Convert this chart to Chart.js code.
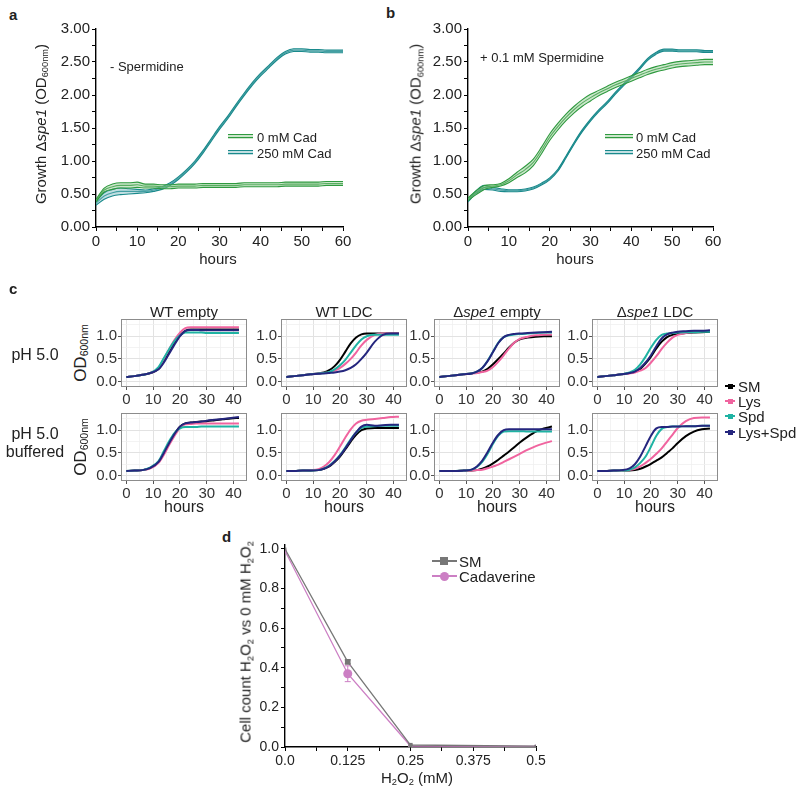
<!DOCTYPE html>
<html><head><meta charset="utf-8">
<script src="https://cdn.jsdelivr.net/npm/chart.js@4"></script>
<style>
body{margin:0;background:#fff;width:800px;height:794px;position:relative;overflow:hidden;font-family:"Liberation Sans",Arial,sans-serif;color:#222}
canvas{position:absolute}
.t{position:absolute;white-space:nowrap;line-height:1}
.ctr{transform:translate(-50%,-50%)}
.lft{transform:translateY(-50%)}
.rot{transform:translate(-50%,-50%) rotate(-90deg)}
.pl{font-weight:bold;font-size:15px}
sub{font-size:0.62em;vertical-align:-0.28em;line-height:0}
.ln{position:absolute}
</style>
</head><body>
<script>
// ---------------- DATA ----------------
// Panels a & b : growth of Δspe1 (OD600nm), hours 0..60
const hoursAB = [0,2,4,6,8,10,12,14,16,18,20,22,24,26,28,30,32,34,36,38,40,42,44,46,48,50,52,54,56,58,60];
const aCad0    = [0.40,0.56,0.61,0.63,0.63,0.64,0.62,0.62,0.61,0.61,0.62,0.62,0.62,0.63,0.63,0.63,0.63,0.63,0.64,0.64,0.64,0.64,0.64,0.65,0.65,0.65,0.65,0.65,0.66,0.66,0.66];
const aCad0Err = [0.02,0.03,0.04,0.04,0.04,0.04,0.03,0.03,0.03,0.03,0.03,0.03,0.03,0.03,0.03,0.03,0.03,0.03,0.03,0.03,0.03,0.03,0.03,0.03,0.03,0.03,0.03,0.03,0.03,0.03,0.03];
const aCad250    = [0.36,0.47,0.52,0.54,0.54,0.54,0.54,0.56,0.59,0.65,0.74,0.85,0.98,1.14,1.32,1.50,1.66,1.84,2.01,2.17,2.31,2.43,2.55,2.64,2.68,2.68,2.67,2.67,2.66,2.66,2.66];
const aCad250Err = [0.03,0.05,0.05,0.05,0.04,0.03,0.02,0.02,0.02,0.02,0.02,0.02,0.02,0.02,0.02,0.02,0.02,0.02,0.02,0.02,0.02,0.02,0.02,0.02,0.02,0.02,0.02,0.02,0.02,0.02,0.02];
const bCad0    = [0.42,0.52,0.60,0.62,0.64,0.70,0.79,0.87,0.98,1.16,1.36,1.52,1.66,1.78,1.88,1.96,2.03,2.09,2.15,2.20,2.25,2.30,2.35,2.39,2.42,2.45,2.47,2.48,2.49,2.50,2.50];
const bCad0Err = [0.02,0.03,0.03,0.02,0.02,0.03,0.04,0.05,0.05,0.05,0.05,0.05,0.05,0.05,0.05,0.05,0.04,0.04,0.04,0.04,0.04,0.04,0.04,0.04,0.04,0.04,0.04,0.04,0.04,0.04,0.04];
const bCad250    = [0.40,0.53,0.60,0.58,0.56,0.55,0.55,0.56,0.59,0.65,0.73,0.86,1.06,1.27,1.46,1.62,1.76,1.88,2.02,2.15,2.27,2.40,2.54,2.63,2.68,2.68,2.67,2.67,2.67,2.66,2.66];
const bCad250Err = [0.02,0.02,0.03,0.02,0.02,0.015,0.015,0.015,0.015,0.015,0.015,0.015,0.015,0.015,0.015,0.015,0.015,0.015,0.015,0.015,0.015,0.015,0.015,0.015,0.015,0.015,0.015,0.015,0.015,0.015,0.015];
const abLegend = ['0 mM Cad','250 mM Cad'];
const abYTicks = [0,0.25,0.5,0.75,1,1.25,1.5,1.75,2,2.25,2.5,2.75,3];
const abXTicks = [0,5,10,15,20,25,30,35,40,45,50,55,60];

// Panel c : OD600nm vs hours, series SM, Lys, Spd, Lys+Spd
const hoursC = [0,3,6,9,12,14,16,18,20,22,24,26,28,30,33,36,39,42];
const cSeries = ['SM','Lys','Spd','Lys+Spd'];
const cColumns = ['WT empty','WT LDC','Δspe1 empty','Δspe1 LDC'];
const c_WTempty_pH5 = [
 [0.10,0.12,0.15,0.19,0.28,0.45,0.65,0.85,1.02,1.12,1.15,1.15,1.15,1.15,1.15,1.15,1.15,1.15],
 [0.10,0.12,0.15,0.19,0.30,0.50,0.72,0.92,1.08,1.18,1.20,1.20,1.20,1.20,1.20,1.20,1.20,1.20],
 [0.10,0.12,0.15,0.19,0.32,0.52,0.72,0.90,1.02,1.08,1.08,1.08,1.08,1.07,1.07,1.07,1.07,1.07],
 [0.10,0.12,0.15,0.19,0.27,0.42,0.62,0.82,1.00,1.12,1.14,1.14,1.13,1.13,1.13,1.13,1.13,1.13]];
const c_WTLDC_pH5 = [
 [0.10,0.12,0.14,0.16,0.18,0.20,0.25,0.34,0.48,0.66,0.84,0.97,1.04,1.06,1.06,1.06,1.06,1.06],
 [0.10,0.12,0.14,0.16,0.18,0.19,0.20,0.24,0.30,0.39,0.50,0.64,0.80,0.92,1.03,1.06,1.06,1.06],
 [0.10,0.12,0.14,0.16,0.18,0.19,0.21,0.27,0.36,0.48,0.64,0.80,0.93,1.00,1.03,1.03,1.03,1.03],
 [0.10,0.12,0.14,0.16,0.17,0.18,0.19,0.20,0.22,0.25,0.30,0.38,0.50,0.64,0.88,1.03,1.06,1.06]];
const c_spe1empty_pH5 = [
 [0.10,0.12,0.14,0.16,0.18,0.20,0.22,0.28,0.38,0.50,0.62,0.75,0.86,0.93,0.97,0.99,1.00,1.00],
 [0.10,0.12,0.14,0.16,0.17,0.19,0.21,0.24,0.32,0.44,0.58,0.73,0.86,0.94,0.99,1.02,1.03,1.04],
 [0.10,0.12,0.14,0.16,0.18,0.22,0.30,0.46,0.66,0.86,0.98,1.02,1.04,1.05,1.06,1.07,1.08,1.08],
 [0.10,0.12,0.14,0.16,0.18,0.22,0.30,0.45,0.65,0.85,0.98,1.03,1.05,1.06,1.07,1.08,1.09,1.10]];
const c_spe1LDC_pH5 = [
 [0.10,0.12,0.14,0.16,0.19,0.22,0.28,0.40,0.55,0.73,0.88,0.98,1.03,1.05,1.07,1.08,1.09,1.10],
 [0.10,0.12,0.14,0.16,0.18,0.20,0.24,0.30,0.42,0.56,0.72,0.86,0.97,1.03,1.07,1.09,1.11,1.12],
 [0.10,0.12,0.14,0.16,0.20,0.26,0.38,0.55,0.75,0.92,1.03,1.06,1.07,1.08,1.09,1.09,1.10,1.10],
 [0.10,0.12,0.14,0.16,0.19,0.22,0.30,0.42,0.58,0.78,0.95,1.04,1.08,1.10,1.11,1.12,1.12,1.13]];
const c_WTempty_buf = [
 [0.10,0.11,0.12,0.17,0.30,0.50,0.72,0.92,1.08,1.15,1.17,1.18,1.19,1.20,1.22,1.24,1.26,1.27],
 [0.10,0.11,0.12,0.16,0.28,0.46,0.68,0.88,1.05,1.13,1.14,1.15,1.15,1.15,1.15,1.15,1.15,1.15],
 [0.10,0.11,0.12,0.18,0.32,0.54,0.76,0.94,1.04,1.07,1.07,1.07,1.08,1.08,1.08,1.08,1.08,1.08],
 [0.10,0.11,0.12,0.17,0.30,0.50,0.72,0.92,1.08,1.15,1.17,1.18,1.19,1.21,1.23,1.25,1.27,1.29]];
const c_WTLDC_buf = [
 [0.10,0.10,0.11,0.11,0.12,0.15,0.20,0.30,0.42,0.58,0.75,0.90,1.00,1.04,1.05,1.05,1.05,1.05],
 [0.10,0.10,0.11,0.12,0.14,0.20,0.30,0.45,0.64,0.84,1.02,1.15,1.21,1.23,1.25,1.27,1.29,1.30],
 [0.10,0.10,0.11,0.11,0.12,0.16,0.22,0.32,0.45,0.62,0.80,0.95,1.05,1.08,1.09,1.10,1.10,1.10],
 [0.10,0.10,0.11,0.11,0.12,0.15,0.21,0.31,0.44,0.60,0.78,0.95,1.08,1.12,1.10,1.11,1.12,1.12]];
const c_spe1empty_buf = [
 [0.10,0.10,0.10,0.11,0.11,0.12,0.15,0.20,0.27,0.35,0.44,0.53,0.63,0.73,0.86,0.97,1.04,1.08],
 [0.10,0.10,0.10,0.11,0.11,0.12,0.13,0.16,0.20,0.24,0.30,0.36,0.42,0.48,0.57,0.65,0.71,0.76],
 [0.10,0.10,0.10,0.11,0.13,0.19,0.30,0.48,0.70,0.88,0.97,0.98,0.98,0.98,0.97,0.97,0.97,0.97],
 [0.10,0.10,0.10,0.11,0.13,0.20,0.33,0.52,0.73,0.90,1.00,1.02,1.02,1.02,1.02,1.02,1.02,1.02]];
const c_spe1LDC_buf = [
 [0.10,0.10,0.11,0.11,0.11,0.12,0.15,0.20,0.26,0.33,0.40,0.50,0.60,0.72,0.87,0.97,1.02,1.04],
 [0.10,0.10,0.11,0.11,0.12,0.15,0.20,0.28,0.37,0.48,0.60,0.75,0.90,1.05,1.20,1.27,1.28,1.28],
 [0.10,0.10,0.11,0.11,0.13,0.18,0.28,0.42,0.64,0.88,1.03,1.07,1.08,1.08,1.09,1.09,1.10,1.10],
 [0.10,0.10,0.11,0.12,0.16,0.25,0.42,0.65,0.88,1.04,1.07,1.07,1.08,1.08,1.09,1.09,1.10,1.10]];
const cXTicks = [0,5,10,15,20,25,30,35,40];
const cYTicks = [0,0.25,0.5,0.75,1,1.25];

// Panel d : cell count ratio vs H2O2 dose
const dDose = [0,0.125,0.25,0.5];
const dSM = [1.00,0.43,0.010,0.004];
const dSMErr = [0,0.01,0,0];
const dCad = [0.99,0.37,0.005,0.003];
const dCadErr = [0,0.04,0,0];
const dLegend = ['SM','Cadaverine'];
const dXTicks = [0,0.0625,0.125,0.1875,0.25,0.3125,0.375,0.4375,0.5];
const dXLabels = {'0':'0.0','0.125':'0.125','0.25':'0.25','0.375':'0.375','0.5':'0.5'};
const dYTicks = [0,0.1,0.2,0.3,0.4,0.5,0.6,0.7,0.8,0.9,1.0];

// ---------------- STYLE ----------------
const FONT = "'Liberation Sans', Arial, sans-serif";
Chart.defaults.font.family = FONT;
Chart.defaults.animation = false;
const GREEN = '#2f9a3f', GREEN_F = 'rgba(140,200,140,0.45)';
const TEAL = '#1a8a8c', TEAL_F = 'rgba(120,185,190,0.45)';
const C_COLORS = ['#000000','#f0649f','#1fb3a3','#25267e'];

function txt(html, x, y, cls, size, extra){
  const d=document.createElement('div');
  d.className='t '+cls; d.innerHTML=html;
  d.style.left=x+'px'; d.style.top=y+'px'; d.style.fontSize=size+'px';
  if(extra) Object.assign(d.style, extra);
  document.body.appendChild(d); return d;
}
function line(x1,x2,y,color,w){
  const d=document.createElement('div'); d.className='ln';
  d.style.left=x1+'px'; d.style.top=(y-w/2)+'px'; d.style.width=(x2-x1)+'px'; d.style.height=w+'px'; d.style.background=color;
  document.body.appendChild(d); return d;
}
function mkCanvas(area, yW, xH, pad){
  const left = area.l - yW - pad.l, top = area.t - pad.t;
  const w = area.r + pad.r - left, h = area.b + xH - top;
  const c = document.createElement('canvas');
  c.width=w; c.height=h; c.style.left=left+'px'; c.style.top=top+'px'; c.style.width=w+'px'; c.style.height=h+'px';
  document.body.appendChild(c); return c;
}
const near = (a,b)=>Math.abs(a-b)<1e-6;

// ---------------- PANELS a & b ----------------
function bandSets(xs, mean, err, color, fill){
  const up = mean.map((v,i)=>({x:xs[i], y:v+err[i]}));
  const lo = mean.map((v,i)=>({x:xs[i], y:v-err[i]}));
  const mid = mean.map((v,i)=>({x:xs[i], y:v}));
  const base = {borderColor:color, borderWidth:1.1, pointRadius:0, cubicInterpolationMode:'monotone'};
  return [
    Object.assign({data:up, fill:false}, base),
    Object.assign({data:lo, fill:'-1', backgroundColor:fill}, base),
    Object.assign({data:mid, fill:false}, base)
  ];
}
function growthChart(area, sets){
  const yW=70, xH=26, pad={l:0,t:12,r:12};
  const cv = mkCanvas(area,yW,xH,pad);
  new Chart(cv,{type:'line',
    data:{datasets:sets},
    options:{responsive:false, animation:false, layout:{padding:{left:pad.l,top:pad.t,right:pad.r,bottom:0}},
      plugins:{legend:{display:false}, tooltip:{enabled:false}},
      scales:{
        x:{type:'linear',min:0,max:60,
          afterBuildTicks:s=>{s.ticks=abXTicks.map(v=>({value:v}));},
          afterFit:s=>{s.height=xH;},
          ticks:{autoSkip:false,maxRotation:0,padding:2,color:'#222',font:{size:15},callback:v=>v%10===0?String(v):''},
          grid:{drawOnChartArea:false,tickLength:4,color:'#000',lineWidth:1},
          border:{display:true,color:'#000',width:1.4}},
        y:{type:'linear',min:0,max:3,
          afterBuildTicks:s=>{s.ticks=abYTicks.map(v=>({value:v}));},
          afterFit:s=>{s.width=yW;},
          ticks:{autoSkip:false,padding:2,color:'#222',font:{size:15},callback:v=>near(v*2,Math.round(v*2))?v.toFixed(2):''},
          grid:{drawOnChartArea:false,tickLength:4,color:'#000',lineWidth:1},
          border:{display:true,color:'#000',width:1.4}}
      }}});
}
growthChart({l:96,r:343,t:29,b:227},
  [...bandSets(hoursAB,aCad0,aCad0Err,GREEN,GREEN_F), ...bandSets(hoursAB,aCad250,aCad250Err,TEAL,TEAL_F)]);
growthChart({l:468,r:713,t:29,b:227},
  [...bandSets(hoursAB,bCad0,bCad0Err,GREEN,GREEN_F), ...bandSets(hoursAB,bCad250,bCad250Err,TEAL,TEAL_F)]);

const ytitleAB = 'Growth Δ<i>spe1</i> (OD<sub>600nm</sub>)';
txt('a',9,7,'pl',15);
txt('b',386,5,'pl',15);
txt(ytitleAB,40,124,'rot',15);
txt(ytitleAB,415,124,'rot',15);
txt('hours',218,258,'ctr',15);
txt('hours',575,258,'ctr',15);
txt('- Spermidine',110,66,'lft',13);
txt('+ 0.1 mM Spermidine',480,57,'lft',13);
[[228,253,257],[605,633,636]].forEach(([x1,x2,tx])=>{
  line(x1,x2,136,GREEN_F,5); line(x1,x2,134.5,GREEN,1); line(x1,x2,137.5,GREEN,1);
  line(x1,x2,152,TEAL_F,5); line(x1,x2,150.5,TEAL,1); line(x1,x2,153.5,TEAL,1);
  txt(abLegend[0],tx,137,'lft',13); txt(abLegend[1],tx,153,'lft',13);
});

// ---------------- PANEL c ----------------
const boxPlugin = {id:'box', afterDatasetsDraw(chart){
  const a=chart.chartArea, ctx=chart.ctx; ctx.save(); ctx.strokeStyle='#8c8c8c'; ctx.lineWidth=1;
  ctx.strokeRect(Math.round(a.left)+0.5,Math.round(a.top)+0.5,Math.round(a.right-a.left)-1,Math.round(a.bottom-a.top)-1); ctx.restore();}};
function facet(area, series){
  const yW=28, xH=20, pad={l:0,t:12,r:12};
  const cv = mkCanvas(area,yW,xH,pad);
  const sets = series.map((vals,k)=>({label:cSeries[k], data:vals.map((v,i)=>({x:hoursC[i],y:v})),
    borderColor:C_COLORS[k], borderWidth:2, pointRadius:0, fill:false, cubicInterpolationMode:'monotone', order:4-k}));
  new Chart(cv,{type:'line', data:{datasets:sets}, plugins:[boxPlugin],
    options:{responsive:false, animation:false, layout:{padding:{left:pad.l,top:pad.t,right:pad.r,bottom:0}},
      plugins:{legend:{display:false}, tooltip:{enabled:false}},
      scales:{
        x:{type:'linear',min:-2,max:45,
          afterBuildTicks:s=>{s.ticks=cXTicks.map(v=>({value:v}));},
          afterFit:s=>{s.height=xH;},
          ticks:{autoSkip:false,maxRotation:0,padding:1,color:'#333',font:{size:15},callback:v=>v%10===0?String(v):''},
          grid:{tickLength:3,lineWidth:ctx=>ctx.tick&&ctx.tick.value%10===0?1:0.8,
            color:ctx=>ctx.tick&&ctx.tick.value%10===0?'#e2e2e2':'#f0f0f0',
            tickColor:ctx=>ctx.tick&&ctx.tick.value%10===0?'#555':'rgba(0,0,0,0)'},
          border:{display:false}},
        y:{type:'linear',min:-0.12,max:1.38,
          afterBuildTicks:s=>{s.ticks=cYTicks.map(v=>({value:v}));},
          afterFit:s=>{s.width=yW;},
          ticks:{autoSkip:false,padding:1,color:'#333',font:{size:15},callback:v=>near(v*2,Math.round(v*2))?v.toFixed(1):''},
          grid:{tickLength:3,lineWidth:ctx=>ctx.tick&&near(ctx.tick.value*2,Math.round(ctx.tick.value*2))?1:0.8,
            color:ctx=>ctx.tick&&near(ctx.tick.value*2,Math.round(ctx.tick.value*2))?'#e2e2e2':'#f0f0f0',
            tickColor:ctx=>ctx.tick&&near(ctx.tick.value*2,Math.round(ctx.tick.value*2))?'#555':'rgba(0,0,0,0)'},
          border:{display:false}}
      }}});
}
const colL=[121,281,434,592], colW=126, rowT=[319,413], rowH=68;
const facetData=[[c_WTempty_pH5,c_WTLDC_pH5,c_spe1empty_pH5,c_spe1LDC_pH5],[c_WTempty_buf,c_WTLDC_buf,c_spe1empty_buf,c_spe1LDC_buf]];
for(let r=0;r<2;r++) for(let c=0;c<4;c++)
  facet({l:colL[c],r:colL[c]+colW,t:rowT[r],b:rowT[r]+rowH}, facetData[r][c]);
txt('c',9,281,'pl',15);
cColumns.forEach((name,c)=>{
  txt(name.replace('spe1','<i>spe1</i>'),colL[c]+colW/2,311,'ctr',15);
  txt('hours',colL[c]+colW/2,507,'ctr',16);
});
txt('pH 5.0',35,355,'ctr',16);
txt('pH 5.0',35,434,'ctr',16);
txt('buffered',35,452,'ctr',16);
txt('OD<sub>600nm</sub>',80,353,'rot',17);
txt('OD<sub>600nm</sub>',80,447,'rot',17);
const cLegY=[386,401,416,432];
cSeries.forEach((s,k)=>{
  line(725,735,cLegY[k],C_COLORS[k],2);
  const sq=document.createElement('div'); sq.className='ln';
  Object.assign(sq.style,{left:'727.5px',top:(cLegY[k]-2.5)+'px',width:'5px',height:'5px',background:C_COLORS[k]});
  document.body.appendChild(sq);
  txt(s,738,cLegY[k],'lft',15);
});

// ---------------- PANEL d ----------------
const errPlugin = {id:'err', afterDatasetsDraw(chart){
  const ctx=chart.ctx, xs=chart.scales.x, ys=chart.scales.y;
  chart.data.datasets.forEach(ds=>{ if(!ds.errors) return;
    ctx.save(); ctx.strokeStyle=ds.borderColor; ctx.lineWidth=1;
    ds.data.forEach((p,i)=>{ const e=ds.errors[i]; if(!e) return;
      const x=xs.getPixelForValue(p.x), y1=ys.getPixelForValue(p.y-e), y2=ys.getPixelForValue(p.y+e);
      ctx.beginPath(); ctx.moveTo(x,y1); ctx.lineTo(x,y2);
      ctx.moveTo(x-3,y1); ctx.lineTo(x+3,y1); ctx.moveTo(x-3,y2); ctx.lineTo(x+3,y2); ctx.stroke();});
    ctx.restore();});
}};
(function(){
  const area={l:285,r:536,t:545,b:747}, yW=40, xH=22, pad={l:0,t:12,r:20};
  const cv=mkCanvas(area,yW,xH,pad);
  const SMC='#777777', CADC='#cc7fc4';
  new Chart(cv,{type:'line', plugins:[errPlugin],
    data:{datasets:[
      {label:dLegend[0], data:dDose.map((x,i)=>({x,y:dSM[i]})), errors:dSMErr, borderColor:SMC, backgroundColor:SMC, borderWidth:1.3,
       pointStyle:'rect', pointRadius:[2,4,3,2], pointBorderWidth:0, fill:false, tension:0},
      {label:dLegend[1], data:dDose.map((x,i)=>({x,y:dCad[i]})), errors:dCadErr, borderColor:CADC, backgroundColor:CADC, borderWidth:1.3,
       pointStyle:'circle', pointRadius:[2,4.5,2.5,2], pointBorderWidth:0, fill:false, tension:0}
    ]},
    options:{responsive:false, animation:false, layout:{padding:{left:pad.l,top:pad.t,right:pad.r,bottom:0}},
      plugins:{legend:{display:false}, tooltip:{enabled:false}},
      scales:{
        x:{type:'linear',min:0,max:0.5,
          afterBuildTicks:s=>{s.ticks=dXTicks.map(v=>({value:v}));},
          afterFit:s=>{s.height=xH;},
          ticks:{autoSkip:false,maxRotation:0,padding:2,color:'#222',font:{size:14},callback:v=>dXLabels[String(v)]||''},
          grid:{drawOnChartArea:false,tickLength:4,color:'#000',lineWidth:1},
          border:{display:true,color:'#000',width:1.4}},
        y:{type:'linear',min:0,max:1.02,
          afterBuildTicks:s=>{s.ticks=dYTicks.map(v=>({value:v}));},
          afterFit:s=>{s.width=yW;},
          ticks:{autoSkip:false,padding:2,color:'#222',font:{size:14},callback:v=>near(v*5,Math.round(v*5))?v.toFixed(1):''},
          grid:{drawOnChartArea:false,tickLength:4,color:'#000',lineWidth:1},
          border:{display:true,color:'#000',width:1.4}}
      }}});
  txt('d',222,529,'pl',15);
  txt('Cell count H<sub>2</sub>O<sub>2</sub> vs 0 mM H<sub>2</sub>O<sub>2</sub>',245,642,'rot',15);
  txt('H<sub>2</sub>O<sub>2</sub> (mM)',417,777,'ctr',15);
  line(432,457,561,SMC,1.5);
  const s1=document.createElement('div'); s1.className='ln';
  Object.assign(s1.style,{left:'440px',top:'557px',width:'8px',height:'8px',background:SMC}); document.body.appendChild(s1);
  line(432,457,576,CADC,1.5);
  const s2=document.createElement('div'); s2.className='ln';
  Object.assign(s2.style,{left:'439.5px',top:'571.5px',width:'9px',height:'9px',background:CADC,borderRadius:'50%'}); document.body.appendChild(s2);
  txt(dLegend[0],459,561,'lft',15);
  txt(dLegend[1],459,576,'lft',15);
})();
</script>
</body></html>
